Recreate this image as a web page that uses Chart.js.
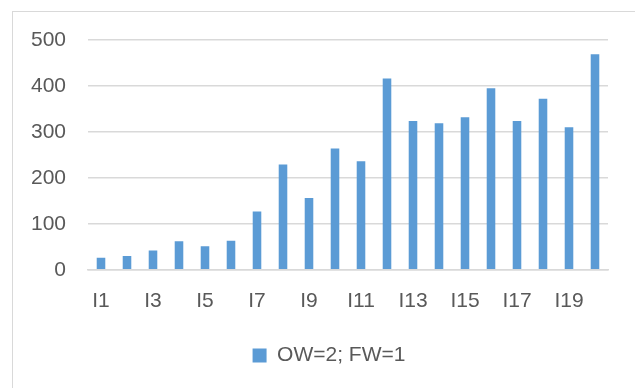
<!DOCTYPE html>
<html>
<head>
<meta charset="utf-8">
<script src="https://cdn.jsdelivr.net/npm/chart.js@4"></script>
<style>
  html, body { margin: 0; padding: 0; background: #ffffff; }
  #wrap { position: relative; width: 635px; height: 388px; overflow: hidden; }
  #frame { position: absolute; left: 12px; top: 11px; width: 660px; height: 420px;
           border: 1px solid #d9d9d9; box-sizing: border-box; }
  canvas { position: absolute; left: 0; top: 0; }
</style>
</head>
<body>
<div id="wrap">
  <div id="frame"></div>
  <canvas id="c" width="635" height="388"></canvas>
</div>
<script>
// Item labels along the x axis
const categories = ['I1','I2','I3','I4','I5','I6','I7','I8','I9','I10',
                    'I11','I12','I13','I14','I15','I16','I17','I18','I19','I20'];
// Series: OW=2; FW=1
const seriesName = 'OW=2; FW=1';
const seriesValues = [26, 30, 42, 62, 51, 63, 127, 229, 156, 264,
                      236, 416, 324, 319, 332, 395, 324, 372, 310, 469];
// Value axis ticks
const yTicks = [0, 100, 200, 300, 400, 500];

const FONT = { family: '"Liberation Sans", Arial, sans-serif', size: 21 };
const TEXT = '#595959';
const GRID = '#d9d9d9';

// Centre the legend under the plot area rather than the whole canvas
const legendShift = {
  id: 'legendShift',
  afterLayout(chart) {
    const lg = chart.legend;
    if (!lg) return;
    const dx = (chart.chartArea.left + chart.chartArea.right) / 2 - (lg.left + lg.right) / 2 - 19;
    lg.left += dx;
    lg.right += dx;
  }
};

new Chart(document.getElementById('c'), {
  type: 'bar',
  data: {
    labels: categories,
    datasets: [{
      label: seriesName,
      data: seriesValues,
      backgroundColor: '#5b9bd5',
      borderWidth: 0,
      categoryPercentage: 1,
      barPercentage: 0.33
    }]
  },
  plugins: [legendShift],
  options: {
    responsive: false,
    animation: false,
    layout: { padding: { left: 0, right: 27, top: 40, bottom: 12 } },
    plugins: {
      tooltip: { enabled: false },
      legend: {
        position: 'bottom',
        labels: {
          color: TEXT,
          font: FONT,
          boxWidth: 14,
          boxHeight: 14,
          padding: 12
        }
      }
    },
    scales: {
      x: {
        grid: { display: false, drawTicks: false },
        border: { display: true, color: GRID, width: 1.5 },
        ticks: {
          color: TEXT,
          font: FONT,
          padding: 19,
          autoSkip: false,
          maxRotation: 0,
          callback: function (v, i) { return i % 2 === 0 ? categories[i] : ''; }
        }
      },
      y: {
        min: yTicks[0],
        max: yTicks[yTicks.length - 1],
        afterFit: s => { s.width = 88; },
        afterBuildTicks: s => { s.ticks = yTicks.map(v => ({ value: v })); },
        grid: { color: GRID, lineWidth: 1.5, drawTicks: false },
        border: { display: false },
        ticks: { color: TEXT, font: FONT, padding: 22 }
      }
    }
  }
});
</script>
</body>
</html>
